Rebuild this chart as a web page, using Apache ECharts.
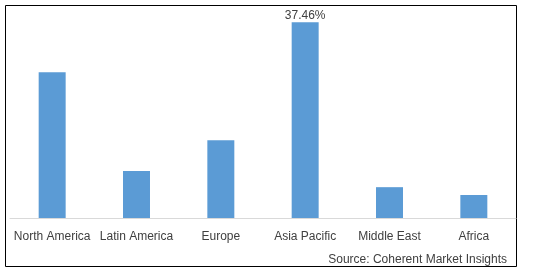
<!DOCTYPE html>
<html><head><meta charset="utf-8">
<script src="https://cdn.jsdelivr.net/npm/echarts@6/dist/echarts.min.js"></script>
<style>html,body{margin:0;padding:0;background:#fff}#c{width:538px;height:272px}</style>
</head><body><div id="c"></div>
<script>
const categories = ['North America', 'Latin America', 'Europe', 'Asia Pacific', 'Middle East', 'Africa'];
const values = [27.9, 9.0, 14.9, 37.46, 5.9, 4.4];
const dataLabels = ['', '', '', '37.46%', '', ''];
const sourceText = 'Source: Coherent Market Insights';

const chart = echarts.init(document.getElementById('c'), null, {renderer: 'canvas'});
chart.setOption({
  animation: false,
  backgroundColor: '#fff',
  textStyle: {fontFamily: 'Liberation Sans, Arial, sans-serif'},
  grid: {left: 10, right: 22, top: 9, bottom: 54, containLabel: false},
  xAxis: {
    type: 'category', data: categories,
    axisLine: {lineStyle: {color: '#d9d9d9', width: 1}},
    axisTick: {show: false},
    axisLabel: {color: '#404040', fontSize: 12, margin: 13, interval: 0}
  },
  yAxis: {type: 'value', min: 0, max: 40, show: false, splitLine: {show: false}},
  series: [{
    type: 'bar', barWidth: '32%',
    itemStyle: {color: '#5b9bd5'},
    data: values.map((v, i) => ({
      value: v,
      label: {show: dataLabels[i] !== '', formatter: dataLabels[i], position: 'top', distance: 1, color: '#404040', fontSize: 12}
    }))
  }],
  graphic: [
    {type: 'rect', shape: {x: 5.5, y: 5.5, width: 511, height: 261}, style: {fill: null, stroke: '#000', lineWidth: 1}, silent: true},
    {type: 'text', right: 31, top: 254, style: {text: sourceText, fill: '#404040', fontSize: 12, fontFamily: 'Liberation Sans, Arial, sans-serif'}}
  ]
});
</script></body></html>
